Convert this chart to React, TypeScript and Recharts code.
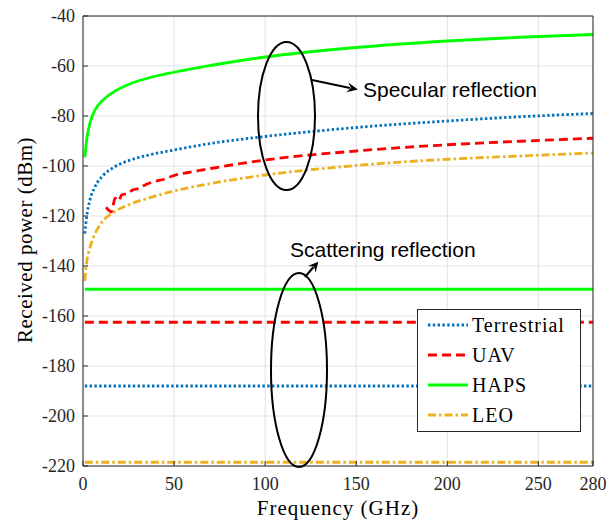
import React from 'react';
import { LineChart, Line, XAxis, YAxis, CartesianGrid, Legend } from 'recharts';

// specular reflection curves (frequency in GHz, power in dBm)
const specF = [1, 2, 3.8, 6.6, 11, 17, 26, 35, 50, 70, 100, 150, 200, 240, 280];
const hapsSpec = [-96.5, -89.6, -82.9, -77.6, -73.6, -70.3, -67.1, -65, -62.5, -59.8, -56.4, -52.6, -50, -48.5, -47.4];
const terrSpec = [-127, -120.3, -113.6, -108.3, -103.8, -100.5, -97.6, -95.8, -93.6, -91, -88.2, -84.6, -82, -80.3, -79];

const uavSpecF = [12.6, 15.7, 16.6, 17.6, 19.5, 21.2, 24.9, 27.2, 31, 33, 37, 41, 44.5, 48, 53, 57, 70, 100, 150, 200, 240, 280];
const uavSpec = [-116.5, -118.3, -115.6, -112.9, -114, -111.6, -110.9, -109.6, -108.9, -108, -106.7, -105.9, -105.3, -104.3, -103.2, -102.7, -101, -97.6, -94, -91.5, -90.1, -88.9];

const leoSpecF = [1, 2, 3, 3.8, 5.7, 8.4, 12, 16.6, 25.8, 35, 50, 70, 100, 150, 200, 240, 280];
const leoSpec = [-146, -138.5, -134.8, -132.6, -128.6, -124.6, -121.2, -118.6, -115.3, -113, -110, -107, -103.6, -99.8, -97.3, -96, -94.8];

// scattering reflection levels
const scatF = [1, 280];
const terrScat = [-188, -188];
const uavScat = [-162.5, -162.5];
const hapsScat = [-149.3, -149.3];
const leoScat = [-218.5, -218.5];

const xTicks = [0, 50, 100, 150, 200, 250, 280];
const yTicks = [-220, -200, -180, -160, -140, -120, -100, -80, -60, -40];

const seriesStyle = [
  { name: 'Terrestrial', color: '#0072BD', dash: '2.4 2.4' },
  { name: 'UAV', color: '#FF0000', dash: '9 5' },
  { name: 'HAPS', color: '#00FF00', dash: undefined },
  { name: 'LEO', color: '#EDB120', dash: '8 3 2.5 3' },
];

const toPoints = (f: number[], p: number[]) => f.map((x, i) => ({ f: x, p: p[i] }));

const curves = [
  { ...seriesStyle[0], key: 'terr-spec', data: toPoints(specF, terrSpec) },
  { ...seriesStyle[1], key: 'uav-spec', data: toPoints(uavSpecF, uavSpec) },
  { ...seriesStyle[2], key: 'haps-spec', data: toPoints(specF, hapsSpec) },
  { ...seriesStyle[3], key: 'leo-spec', data: toPoints(leoSpecF, leoSpec) },
  { ...seriesStyle[0], key: 'terr-scat', data: toPoints(scatF, terrScat) },
  { ...seriesStyle[1], key: 'uav-scat', data: toPoints(scatF, uavScat) },
  { ...seriesStyle[2], key: 'haps-scat', data: toPoints(scatF, hapsScat) },
  { ...seriesStyle[3], key: 'leo-scat', data: toPoints(scatF, leoScat) },
];

const serif = '"Liberation Serif", "Times New Roman", serif';
const sans = '"Liberation Sans", Arial, sans-serif';
const axisColor = '#262626';

function LegendBox() {
  return (
    <div style={{ width: 164, height: 123, background: '#fff', border: `1px solid ${axisColor}`, boxSizing: 'border-box' }}>
      <svg width={162} height={121} style={{ display: 'block' }}>
        {seriesStyle.map((s, i) => {
          const y = 15 + i * 30;
          return (
            <g key={s.name}>
              <line x1={10} x2={50} y1={y} y2={y} stroke={s.color} strokeWidth={2.8} strokeDasharray={s.dash} />
              <text x={54} y={y + 6.5} fontFamily={serif} fontSize={20} letterSpacing={1} fill="#000">
                {s.name}
              </text>
            </g>
          );
        })}
      </svg>
    </div>
  );
}

const XTick = ({ x, y, payload }: any) => (
  <text x={x} y={y} dy="0.71em" textAnchor="middle" fontSize={18} fill={axisColor} style={{ fontFamily: serif }}>
    {payload.value}
  </text>
);

const YTick = ({ x, y, payload }: any) => (
  <text x={x} y={y} dy="0.355em" textAnchor="end" fontSize={18} fill={axisColor} style={{ fontFamily: serif }}>
    {payload.value}
  </text>
);

export default function App() {
  return (
    <div style={{ position: 'absolute', left: 0, top: 0, width: 611, height: 520, background: '#fff' }}>
      <LineChart width={611} height={520} margin={{ top: 15, right: 17, bottom: 14, left: 23 }}>
        <CartesianGrid stroke="#e2e2e2" strokeWidth={1} />
        <XAxis
          type="number"
          dataKey="f"
          domain={[0, 280]}
          ticks={xTicks}
          interval={0}
          height={40}
          tickSize={-5}
          tickMargin={16}
          tick={<XTick />}
          stroke={axisColor}
          allowDataOverflow
        />
        <XAxis
          xAxisId="top"
          orientation="top"
          type="number"
          domain={[0, 280]}
          ticks={xTicks}
          interval={0}
          height={1}
          tickSize={-5}
          tick={false}
          stroke={axisColor}
          allowDataOverflow
        />
        <YAxis
          type="number"
          domain={[-220, -40]}
          ticks={yTicks}
          interval={0}
          width={60}
          tickSize={-5}
          tickMargin={13}
          tick={<YTick />}
          stroke={axisColor}
          allowDataOverflow
        />
        <YAxis
          yAxisId="right"
          orientation="right"
          type="number"
          domain={[-220, -40]}
          ticks={yTicks}
          interval={0}
          width={1}
          tickSize={-5}
          tick={false}
          stroke={axisColor}
          allowDataOverflow
        />
        {curves.map((c) => (
          <Line
            key={c.key}
            data={c.data}
            dataKey="p"
            name={c.name}
            type="monotone"
            stroke={c.color}
            strokeWidth={2.8}
            strokeDasharray={c.dash}
            dot={false}
            activeDot={false}
            legendType="none"
            isAnimationActive={false}
          />
        ))}
        <Legend
          layout="vertical"
          verticalAlign="middle"
          align="center"
          content={() => <LegendBox />}
          wrapperStyle={{ left: 417, top: 309, width: 164, height: 123 }}
        />
      </LineChart>
      <svg
        width={611}
        height={520}
        style={{ position: 'absolute', left: 0, top: 0, pointerEvents: 'none' }}
      >
        <text x={338} y={515} textAnchor="middle" fontFamily={serif} fontSize={21} letterSpacing={1} fill="#000">
          Frequency (GHz)
        </text>
        <text
          transform="translate(32,240) rotate(-90)"
          textAnchor="middle"
          fontFamily={serif}
          fontSize={21}
          letterSpacing={0.5}
          fill="#000"
        >
          Received power (dBm)
        </text>

        <ellipse cx={286.5} cy={116} rx={28.5} ry={74} fill="none" stroke="#000" strokeWidth={2} />
        <line x1={312} y1={80} x2={350} y2={88} stroke="#000" strokeWidth={2} />
        <polygon points="358,89.6 348.2,82.4 351.1,88.1 346.2,92.2" fill="#000" />
        <text x={363} y={97} fontFamily={sans} fontSize={21} fill="#000">
          Specular reflection
        </text>

        <ellipse cx={299} cy={370} rx={28} ry={97} fill="none" stroke="#000" strokeWidth={2} />
        <line x1={305} y1={277} x2={313.5} y2={267} stroke="#000" strokeWidth={2} />
        <polygon points="318.3,261.7 315.6,272.5 314.1,266.6 308,266" fill="#000" />
        <text x={290} y={257} fontFamily={sans} fontSize={21} fill="#000">
          Scattering reflection
        </text>
      </svg>
    </div>
  );
}
